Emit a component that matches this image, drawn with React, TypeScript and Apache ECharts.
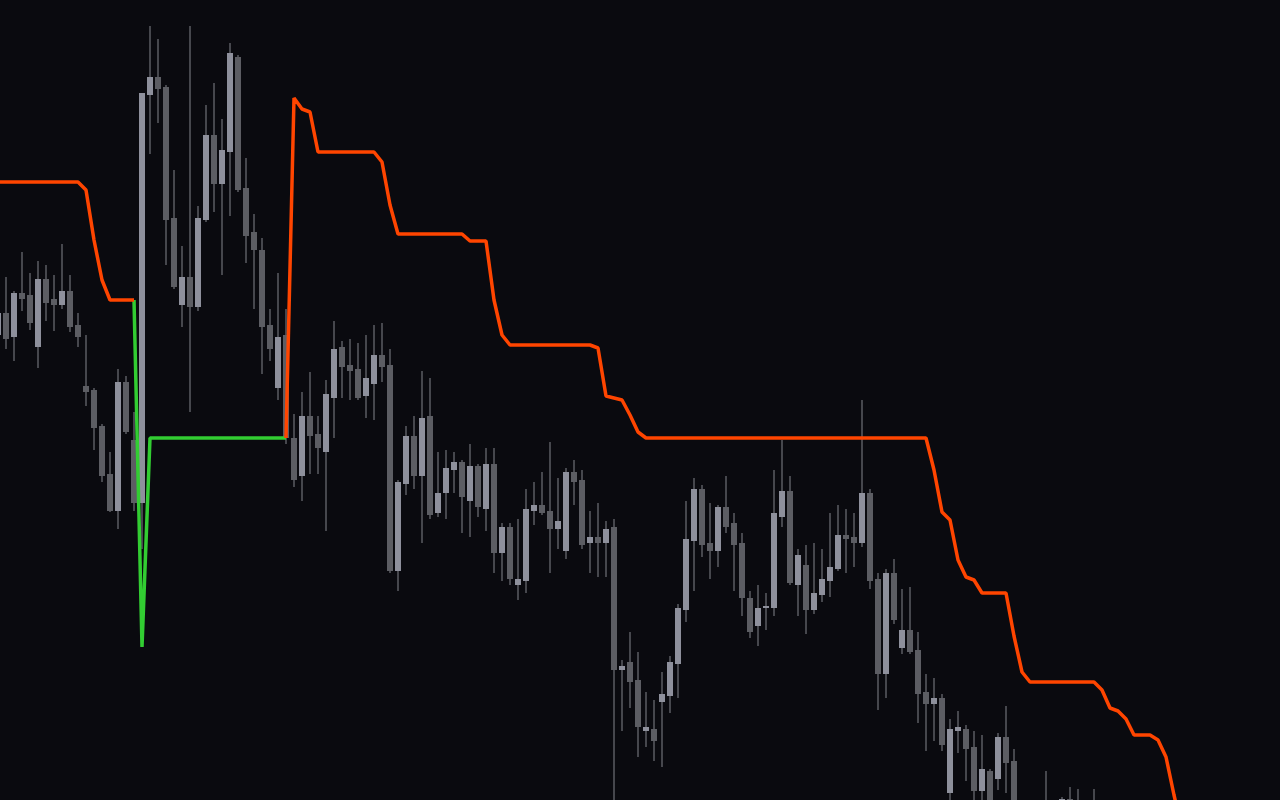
import React, { useEffect, useRef } from "react";
import * as echarts from "echarts";

// Price levels are stored on an inverted scale (smaller = higher on screen).
// Index of the first candle in the arrays below (one candle sits just off the left edge).
const firstIndex = -1;

const candleOpen = [
  335, 313, 337, 293, 295, 347, 279, 299, 305, 291, 325, 386, 390, 426, 474, 511, 382, 440, 503, 95,
  77, 87, 218, 305, 277, 307, 220, 135, 184, 152, 57, 188, 232, 250, 325, 388, 335, 438, 476, 416,
  434, 452, 398, 347, 365, 369, 396, 384, 355, 365, 571, 484, 436, 476, 416, 513, 493, 470, 462, 501,
  466, 509, 464, 553, 527, 585, 581, 511, 505, 511, 529, 551, 472, 480, 543, 537, 543, 527, 670, 662,
  680, 731, 729, 702, 696, 664, 610, 541, 489, 543, 551, 507, 523, 543, 598, 626, 608, 608, 517, 491,
  585, 565, 610, 595, 581, 569, 535, 537, 543, 493, 579, 674, 573, 648, 630, 650, 692, 704, 698, 793,
  731, 729, 747, 791, 771, 779, 737, 761, 815, 840, 820, 835, 805, 825, 799, 820, 840, 815, 830,
];
const candleHigh = [
  300, 277, 291, 252, 273, 261, 265, 275, 244, 275, 313, 335, 388, 424, 452, 369, 376, 412, 93, 26,
  39, 85, 170, 246, 26, 206, 105, 83, 119, 43, 55, 158, 214, 238, 309, 273, 309, 414, 392, 372,
  416, 380, 321, 341, 339, 343, 335, 325, 323, 349, 480, 426, 416, 371, 378, 452, 450, 452, 460, 444,
  464, 448, 448, 523, 523, 519, 489, 482, 472, 442, 478, 468, 460, 470, 511, 503, 521, 519, 660, 632,
  652, 692, 700, 672, 656, 604, 501, 478, 485, 503, 505, 476, 513, 533, 591, 585, 593, 470, 440, 476,
  549, 545, 543, 549, 513, 505, 509, 513, 400, 489, 573, 569, 559, 589, 587, 632, 674, 678, 694, 719,
  711, 725, 731, 735, 769, 733, 706, 749, 805, 810, 808, 771, 801, 797, 787, 789, 805, 789, 815,
];
const candleLow = [
  345, 349, 361, 311, 330, 368, 321, 331, 309, 332, 347, 406, 450, 482, 512, 529, 434, 511, 549, 154,
  123, 265, 289, 327, 412, 311, 222, 212, 275, 216, 192, 263, 309, 374, 361, 400, 444, 487, 501, 474,
  474, 531, 438, 398, 400, 400, 418, 420, 382, 573, 591, 495, 489, 543, 519, 517, 519, 493, 533, 537,
  517, 531, 573, 581, 585, 600, 593, 525, 515, 573, 549, 559, 505, 549, 573, 577, 577, 805, 731, 708,
  757, 747, 761, 767, 713, 698, 622, 591, 557, 579, 567, 533, 591, 616, 638, 646, 630, 616, 527, 585,
  616, 634, 614, 602, 597, 571, 573, 567, 547, 589, 710, 698, 624, 654, 654, 723, 751, 741, 751, 805,
  753, 781, 805, 805, 825, 790, 793, 830, 845, 850, 842, 845, 840, 835, 830, 845, 850, 840, 860,
];
const candleClose = [
  313, 339, 293, 299, 323, 279, 303, 305, 291, 327, 337, 392, 428, 476, 511, 382, 432, 503, 93, 77,
  89, 220, 287, 277, 307, 218, 135, 184, 150, 53, 190, 236, 250, 327, 349, 337, 438, 480, 416, 436,
  448, 394, 349, 367, 371, 398, 378, 355, 367, 571, 482, 436, 476, 418, 515, 493, 468, 462, 497, 466,
  507, 464, 553, 527, 579, 579, 509, 505, 513, 529, 521, 472, 482, 545, 537, 543, 529, 670, 666, 682,
  727, 727, 741, 694, 662, 608, 539, 489, 545, 551, 507, 527, 545, 598, 632, 608, 606, 513, 491, 583,
  555, 610, 593, 579, 567, 535, 539, 543, 493, 581, 674, 573, 620, 630, 652, 694, 704, 698, 745, 729,
  727, 749, 791, 769, 815, 737, 763, 815, 835, 820, 830, 805, 825, 799, 820, 835, 815, 830, 850,
];

// Trailing stop line: bearish (upper) band and bullish (lower) band, same indexing as candles.
const upperBand: (number | null)[] = [
  182, 182, 182, 182, 182, 182, 182, 182, 182, 182, 182, 190, 240, 280, 300, 300, 300, 300,
  null, null, null, null, null, null, null, null, null, null, null, null, null, null, null, null, null, null,
  438, 98, 109, 112, 152, 152, 152, 152, 152, 152, 152, 152, 162, 205,
  234, 234, 234, 234, 234, 234, 234, 234, 234, 241, 241, 241, 300, 335,
  345, 345, 345, 345, 345, 345, 345, 345, 345, 345, 345, 348, 396, 398, 400, 415, 432,
  438, 438, 438, 438, 438, 438, 438, 438, 438, 438, 438, 438, 438, 438, 438, 438, 438, 438,
  438, 438, 438, 438, 438, 438, 438, 438, 438, 438, 438, 438, 438, 438, 438, 438, 438, 438,
  470, 512, 520, 560, 577, 580, 593, 593, 593, 593, 636, 672,
  682, 682, 682, 682, 682, 682, 682, 682, 682, 690, 708, 711, 719, 735, 735, 735, 740, 757, 795, 830,
];
const lowerBand: (number | null)[] = [
  null, null, null, null, null, null, null, null, null, null, null, null, null, null, null, null, null,
  300, 647,
  438, 438, 438, 438, 438, 438, 438, 438, 438,
  438, 438, 438, 438, 438, 438, 438, 438, 438,
];

const COLORS = {
  background: "#0a0a0f",
  up: "#8e909c",
  down: "#5c5d63",
  wick: "#46474d",
  bear: "#ff4500",
  bull: "#32cd32",
};

export default function App() {
  const ref = useRef<HTMLDivElement>(null);

  useEffect(() => {
    if (!ref.current) return;
    const chart = echarts.init(ref.current, undefined, { renderer: "svg" });

    const candleData = candleOpen.map((o, i) => [
      i + firstIndex,
      o,
      candleClose[i],
      candleLow[i],
      candleHigh[i],
    ]);
    const toLine = (arr: (number | null)[]) =>
      arr.map((v, i) => [i + firstIndex, v === null ? "-" : v]);

    chart.setOption({
      animation: false,
      backgroundColor: COLORS.background,
      grid: { left: 0, right: 0, top: 0, bottom: 0, containLabel: false },
      xAxis: { type: "value", min: -0.75, max: 159.25, show: false },
      yAxis: { type: "value", inverse: true, min: 0, max: 800, show: false },
      series: [
        {
          type: "custom",
          clip: true,
          data: candleData,
          encode: { x: 0, y: [1, 2, 3, 4] },
          renderItem: (params: any, api: any) => {
            const k = api.value(0);
            const pO = api.coord([k, api.value(1)]);
            const yC = api.coord([k, api.value(2)])[1];
            const yL = api.coord([k, api.value(3)])[1];
            const yH = api.coord([k, api.value(4)])[1];
            const x = pO[0];
            const yO = pO[1];
            const bodyW = api.size([1, 0])[0] * 0.75;
            const up = yC < yO;
            const top = Math.min(yO, yC);
            const h = Math.max(2, Math.abs(yO - yC));
            return {
              type: "group",
              children: [
                {
                  type: "rect",
                  shape: { x: x - 1, y: Math.min(yH, yL), width: 2, height: Math.abs(yL - yH) },
                  style: { fill: COLORS.wick },
                },
                {
                  type: "rect",
                  shape: { x: x - bodyW / 2, y: top, width: bodyW, height: h },
                  style: { fill: up ? COLORS.up : COLORS.down },
                },
              ],
            };
          },
          z: 1,
        },
        {
          type: "line",
          data: toLine(lowerBand),
          showSymbol: false,
          connectNulls: false,
          lineStyle: { color: COLORS.bull, width: 3.5 },
          z: 2,
        },
        {
          type: "line",
          data: toLine(upperBand),
          showSymbol: false,
          connectNulls: false,
          lineStyle: { color: COLORS.bear, width: 3.5 },
          z: 3,
        },
      ],
    });

    return () => chart.dispose();
  }, []);

  return (
    <div
      ref={ref}
      style={{
        position: "fixed",
        left: 0,
        top: 0,
        width: 1280,
        height: 800,
        background: COLORS.background,
      }}
    />
  );
}
